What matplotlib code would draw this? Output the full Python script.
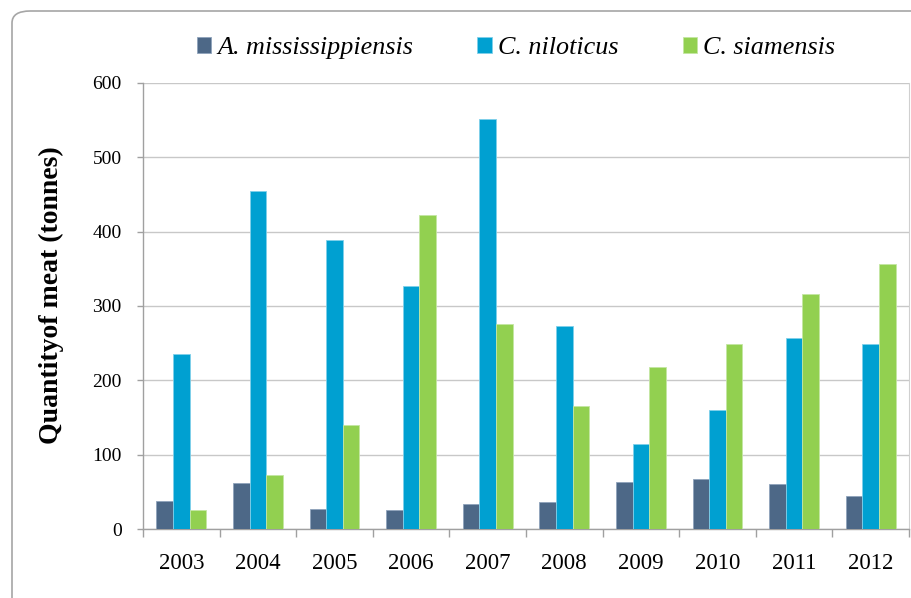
import matplotlib.pyplot as plt
import numpy as np
from matplotlib.patches import FancyBboxPatch

years = ["2003", "2004", "2005", "2006", "2007", "2008", "2009", "2010", "2011", "2012"]
series_names = ["A. mississippiensis", "C. niloticus", "C. siamensis"]
a_mississippiensis = [37, 62, 27, 25, 34, 36, 63, 67, 60, 44]
c_niloticus = [235, 455, 389, 327, 552, 273, 114, 160, 257, 249]
c_siamensis = [26, 73, 140, 422, 276, 166, 218, 249, 316, 357]
y_ticks = [0, 100, 200, 300, 400, 500, 600]

colors = ["#4d6887", "#00a0d1", "#92d050"]
edges = ["#8fa3bb", "#7fd0ea", "#c4e6a3"]

plt.rcParams['font.family'] = ['Liberation Serif', 'DejaVu Serif']

fig = plt.figure(figsize=(9.11, 5.98), dpi=100)
# rounded chart border
border = FancyBboxPatch((12 / 911, -0.05), 1.05, 1 - 11 / 598 + 0.05,
                        boxstyle="round,pad=0,rounding_size=0.02",
                        transform=fig.transFigure, facecolor="none",
                        edgecolor="#a6a6a6", linewidth=1.2, zorder=0)
fig.patches.append(border)

ax = fig.add_axes([143 / 911, 1 - 529 / 598, (909 - 143) / 911, (529 - 83) / 598])
ax.set_facecolor("none")

x = np.arange(len(years))
w = 0.217
data = [a_mississippiensis, c_niloticus, c_siamensis]
for i, vals in enumerate(data):
    ax.bar(x + (i - 1) * w, vals, w, color=colors[i], edgecolor=edges[i],
           linewidth=0.6, label=series_names[i], zorder=3)

ax.set_xlim(-0.5, len(years) - 0.5)
ax.set_ylim(0, 600)
ax.set_yticks(y_ticks)
ax.set_yticklabels([str(v) for v in y_ticks], fontsize=14)
ax.yaxis.grid(True, color="#c8c8c8", linewidth=1.0, zorder=0)
ax.set_axisbelow(True)

# category ticks between groups, labels centered
ax.set_xticks(np.arange(-0.5, len(years), 1.0))
ax.set_xticklabels([])
ax.set_xticks(x, minor=True)
ax.set_xticklabels(years, minor=True, fontsize=16.5)
ax.tick_params(axis='x', which='major', length=5.8, color="#a0a0a0", width=1)
ax.tick_params(axis='x', which='minor', length=0, pad=17)
ax.tick_params(axis='y', length=4.5, color="#a0a0a0", width=1, pad=10.8)

ax.spines["top"].set_visible(False)
ax.spines["right"].set_color("#d0d0d0")
ax.spines["left"].set_color("#a0a0a0")
ax.spines["bottom"].set_color("#a0a0a0")
ax.spines["left"].set_linewidth(1)
ax.spines["bottom"].set_linewidth(1)

ax.set_ylabel("Quantityof meat (tonnes)", fontsize=20, fontweight="bold")
ax.yaxis.set_label_coords((64 - 143) / 766, (529 - 295) / 446)

leg = fig.legend(loc="center", bbox_to_anchor=(516 / 911, 1 - 48 / 598), ncol=3,
                 frameon=False, prop={'style': 'italic', 'size': 18.8},
                 handlelength=0.55, handleheight=0.55, handletextpad=0.25,
                 columnspacing=2.45)

fig.savefig("out.png", dpi=100)
